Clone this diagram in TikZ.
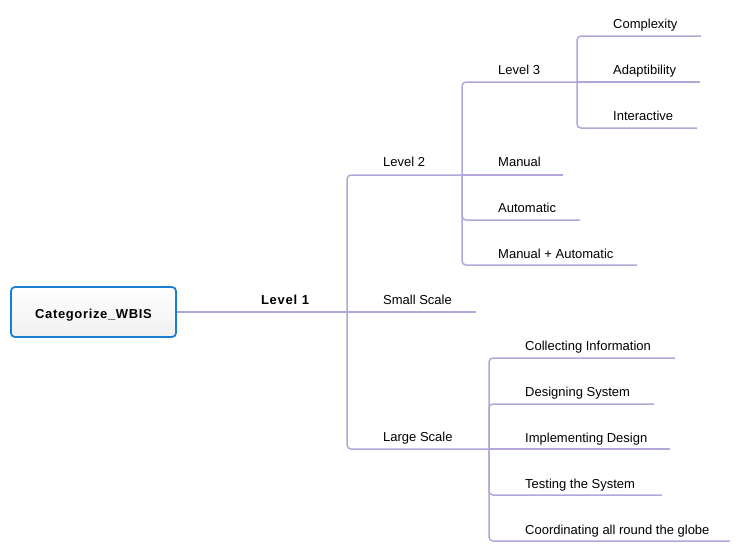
\documentclass[tikz,border=0pt]{standalone}
\usepackage{fontspec}
\setmainfont{Liberation Sans}
\newfontfamily\boldsp[LetterSpace=6]{Liberation Sans}
\newfontfamily\boldspr[LetterSpace=5]{Liberation Sans}
\definecolor{branchc}{RGB}{180,166,216}
\definecolor{rootc}{RGB}{24,128,212}
\begin{document}
\begin{tikzpicture}[x=1pt,y=-1pt,
  branch/.style={draw=branchc, line width=1.5pt, rounded corners=4pt},
  lab/.style={anchor=base west, inner sep=0pt, font=\fontsize{13}{15}\selectfont},
  boldlab/.style={anchor=base, inner sep=0pt, font=\fontsize{13}{15}\selectfont\boldsp\bfseries},
  rootbox/.style={draw=rootc, line width=1.8pt, rounded corners=4pt,
    top color=white, bottom color=black!6, minimum width=165pt, minimum height=50pt,
    inner sep=0pt, text height=12pt, text depth=0pt,
    font=\fontsize{13}{15}\selectfont\boldspr\bfseries}
]
\useasboundingbox (0,0) rectangle (740,552);

% root
\node[rootbox] (root) at (93.5,312) {Categorize\_WBIS};
\node[boldlab] (l1) at (285,304) {Level 1};

% joints
\coordinate (j1) at (347,312);
\coordinate (j2) at (462,175);
\coordinate (j3) at (577,82);
\coordinate (jL) at (489,449);

% line ends
\coordinate (l2E) at (462,175);
\coordinate (ssE) at (476,312);
\coordinate (lsE) at (489,449);
\coordinate (l3E) at (577,82);
\coordinate (manE) at (563,175);
\coordinate (autE) at (580,220);
\coordinate (maE) at (637,265);
\coordinate (cxE) at (701,36);
\coordinate (adE) at (700,82);
\coordinate (inE) at (697,128);
\coordinate (ciE) at (675,358);
\coordinate (dsE) at (654,404);
\coordinate (idE) at (670,449);
\coordinate (tsE) at (662,495);
\coordinate (crE) at (730,541);

% labels
\node[lab] (l2) at (383,166) {Level 2};
\node[lab] (ss) at (383,304) {Small Scale};
\node[lab] (ls) at (383,441) {Large Scale};
\node[lab] (l3) at (498,74) {Level 3};
\node[lab] (man) at (498,166) {Manual};
\node[lab] (aut) at (498,212) {Automatic};
\node[lab] (ma) at (498,258) {Manual + Automatic};
\node[lab] (cx) at (613,28) {Complexity};
\node[lab] (ad) at (613,74) {Adaptibility};
\node[lab] (in) at (613,120) {Interactive};
\node[lab] (ci) at (525,350) {Collecting Information};
\node[lab] (ds) at (525,396) {Designing System};
\node[lab] (id) at (525,442) {Implementing Design};
\node[lab] (ts) at (525,488) {Testing the System};
\node[lab] (cr) at (525,534) {Coordinating all round the globe};

% connectors
\draw[branch] (root.east) -- (j1);
\draw[branch] (j1) |- (l2E);
\draw[branch] (j1) -- (ssE);
\draw[branch] (j1) |- (lsE);

\draw[branch] (j2) |- (l3E);
\draw[branch] (j2) -- (manE);
\draw[branch] (j2) |- (autE);
\draw[branch] (j2) |- (maE);

\draw[branch] (j3) |- (cxE);
\draw[branch] (j3) -- (adE);
\draw[branch] (j3) |- (inE);

\draw[branch] (jL) |- (ciE);
\draw[branch] (jL) |- (dsE);
\draw[branch] (jL) -- (idE);
\draw[branch] (jL) |- (tsE);
\draw[branch] (jL) |- (crE);
\end{tikzpicture}
\end{document}
